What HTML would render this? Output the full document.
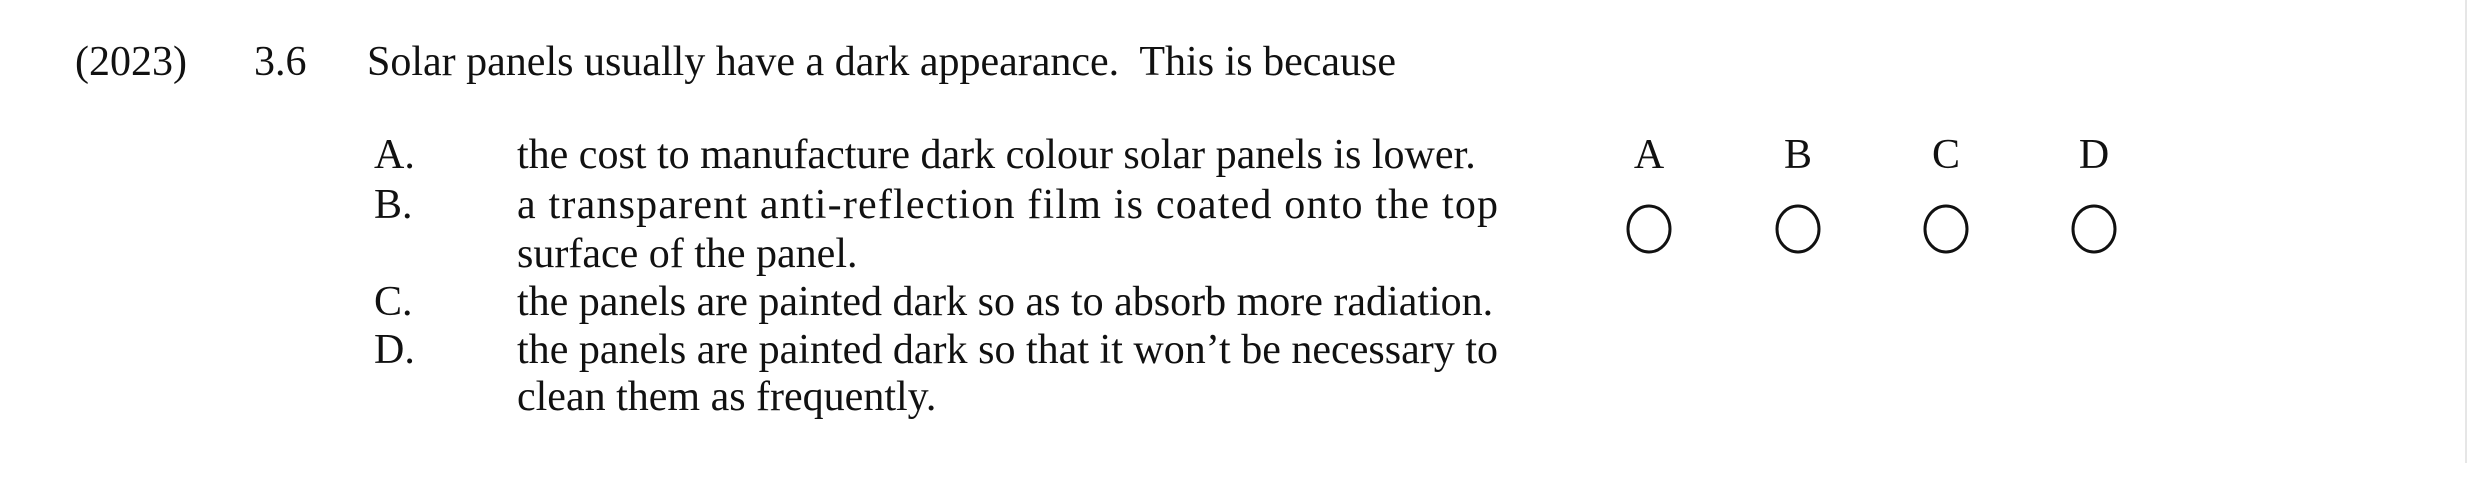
<!DOCTYPE html>
<html>
<head>
<meta charset="utf-8">
<style>
html,body{margin:0;padding:0;background:#fff;}
svg{display:block;}
text{font-family:"Liberation Serif",serif;font-size:42px;fill:#111;}
</style>
</head>
<body>
<svg width="2481" height="482" viewBox="0 0 2481 482">
  <rect x="0" y="0" width="2481" height="482" fill="#fff"/>
  <line x1="2466" y1="0" x2="2466" y2="463" stroke="#e6e6e6" stroke-width="2"/>
  <text x="75" y="75">(2023)</text>
  <text x="254" y="75">3.6</text>
  <text x="367" y="75" xml:space="preserve">Solar panels usually have a dark appearance.  This is because</text>

  <text x="374" y="168">A.</text>
  <text x="517" y="168">the cost to manufacture dark colour solar panels is lower.</text>
  <text x="374" y="218">B.</text>
  <text x="517" y="218" textLength="981" lengthAdjust="spacing">a transparent anti-reflection film is coated onto the top</text>
  <text x="517" y="267">surface of the panel.</text>
  <text x="374" y="315">C.</text>
  <text x="517" y="315">the panels are painted dark so as to absorb more radiation.</text>
  <text x="374" y="363">D.</text>
  <text x="517" y="363" textLength="981" lengthAdjust="spacing">the panels are painted dark so that it won’t be necessary to</text>
  <text x="517" y="410">clean them as frequently.</text>

  <text x="1649" y="168" text-anchor="middle">A</text>
  <text x="1798" y="168" text-anchor="middle">B</text>
  <text x="1946" y="168" text-anchor="middle">C</text>
  <text x="2094" y="168" text-anchor="middle">D</text>

  <ellipse cx="1649" cy="229" rx="21" ry="23" fill="none" stroke="#111" stroke-width="3"/>
  <ellipse cx="1798" cy="229" rx="21" ry="23" fill="none" stroke="#111" stroke-width="3"/>
  <ellipse cx="1946" cy="229" rx="21" ry="23" fill="none" stroke="#111" stroke-width="3"/>
  <ellipse cx="2094" cy="229" rx="21" ry="23" fill="none" stroke="#111" stroke-width="3"/>
</svg>
</body>
</html>
